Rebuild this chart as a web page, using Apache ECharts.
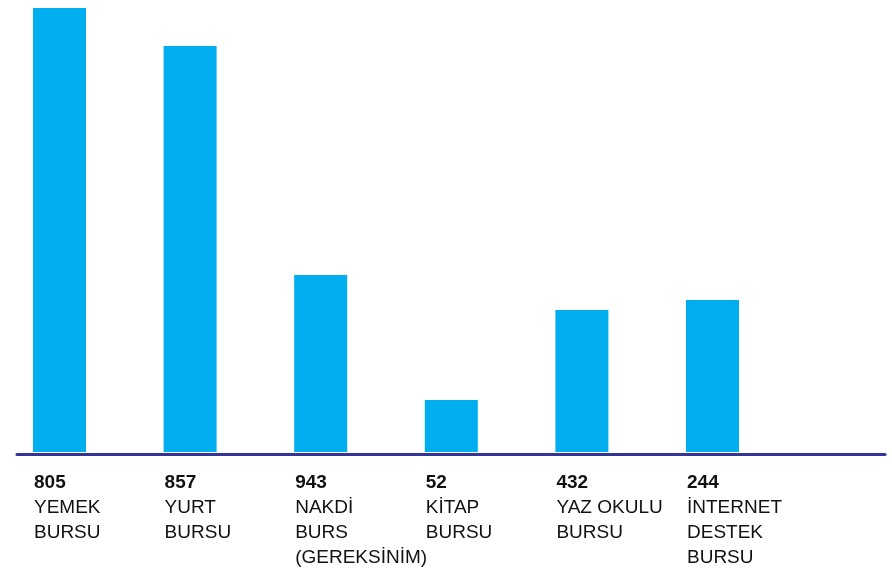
<!DOCTYPE html>
<html lang="tr">
<head>
    <meta charset="UTF-8">
    <title>Burslar</title>
    <script src="https://cdn.jsdelivr.net/npm/echarts@6/dist/echarts.min.js"></script>
    <style>
        html, body { margin: 0; padding: 0; background: #fff; }
        #main { width: 892px; height: 571px; }
    </style>
</head>
<body>
<div id="main"></div>
<script type="text/javascript">
    // kategori adları (alt satırlar \n ile)
    var categories = ['YEMEK\nBURSU', 'YURT\nBURSU', 'NAKDİ\nBURS\n(GEREKSİNİM)', 'KİTAP\nBURSU', 'YAZ OKULU\nBURSU', 'İNTERNET\nDESTEK\nBURSU'];
    // çubukların altındaki sayılar
    var counts = [805, 857, 943, 52, 432, 244];
    // çubuk yükseklikleri (resimden okunan göreli değerler)
    var barValues = [444, 406, 177, 52, 142, 152];

    var font = '"Liberation Sans", Arial, sans-serif';

    var myChart = echarts.init(document.getElementById('main'));
    var option = {
        animation: false,
        grid: [
            {left: 59.5, right: 179.5, top: 8, bottom: 119},
            {left: 17, right: 7, top: 8, bottom: 117}
        ],
        xAxis: [
            {
                type: 'category', gridIndex: 0, data: categories, boundaryGap: false,
                axisLine: {show: false}, axisTick: {show: false}, axisLabel: {show: false}
            },
            {
                type: 'value', gridIndex: 1, min: 0, max: 1,
                axisLine: {show: true, lineStyle: {color: '#333399', width: 3}},
                axisTick: {show: false}, axisLabel: {show: false}, splitLine: {show: false}
            }
        ],
        yAxis: [
            {type: 'value', gridIndex: 0, min: 0, max: 444, show: false},
            {type: 'value', gridIndex: 1, min: 0, max: 1, show: false}
        ],
        series: [
            {
                type: 'bar',
                xAxisIndex: 0, yAxisIndex: 0,
                data: barValues,
                barWidth: 53,
                itemStyle: {color: '#00AEEF'},
                label: {
                    show: true,
                    position: [0, '100%'],
                    offset: [1, 18],
                    align: 'left',
                    verticalAlign: 'top',
                    formatter: function (p) {
                        var lines = categories[p.dataIndex].split('\n').map(function (s) {
                            return '{n|' + s + '}';
                        });
                        return '{v|' + counts[p.dataIndex] + '}\n' + lines.join('\n');
                    },
                    rich: {
                        v: {fontFamily: font, fontSize: 19, fontWeight: 'bold', color: '#111', lineHeight: 25},
                        n: {fontFamily: font, fontSize: 19, color: '#111', lineHeight: 25}
                    }
                }
            },
            {
                type: 'line', xAxisIndex: 1, yAxisIndex: 1, data: [], silent: true
            }
        ]
    };
    myChart.setOption(option);
</script>
</body>
</html>
